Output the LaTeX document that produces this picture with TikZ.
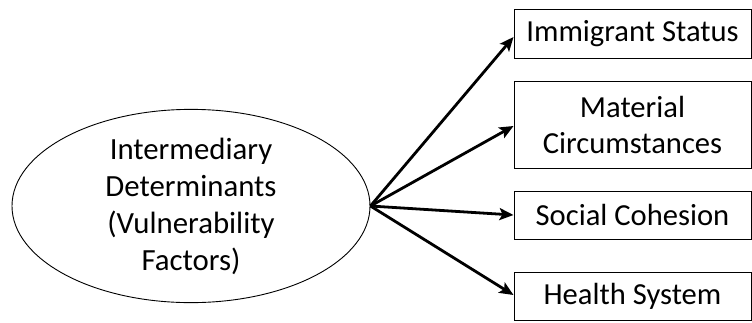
\documentclass[tikz,border=0pt]{standalone}
\usepackage{fontspec}
\setmainfont{Carlito}
\usetikzlibrary{shapes.geometric,arrows.meta}
\begin{document}
\begin{tikzpicture}[x=1pt,y=-1pt,
  factor/.style={draw=black, line width=1pt, rectangle, inner sep=0pt, align=center,
    font=\fontsize{30.6}{36}\selectfont},
  link/.style={line width=2.8pt, -{Stealth[length=14pt,width=12pt,inset=3pt]}}]
  \useasboundingbox (0,0) rectangle (752,322);
  % central ellipse
  \node[draw=black, line width=0.9pt, ellipse, minimum width=358pt, minimum height=168pt,
    inner sep=0pt, align=center, font=\fontsize{30.8}{37}\selectfont] (core) at (191,206)
    {Intermediary\\Determinants\\(Vulnerability\\Factors)};
  % factor boxes
  \node[factor, minimum width=237pt, minimum height=49pt] (imm) at (632.5,33.5) {Immigrant Status};
  \node[factor, minimum width=237pt, minimum height=87pt] (mat) at (632.5,124.5) {Material\\Circumstances};
  \node[factor, minimum width=237pt, minimum height=48pt] (soc) at (632.5,215) {Social Cohesion};
  \node[factor, minimum width=237pt, minimum height=48pt] (hea) at (632.5,296) {Health System};
  % connectors
  \coordinate (src) at (core.east);
  \draw[link] (src) -- (imm.west |- 0,37);
  \draw[link] (src) -- (mat.west |- 0,126);
  \draw[link] (src) -- (soc.west |- 0,215);
  \draw[link] (src) -- (hea.west |- 0,295);
\end{tikzpicture}
\end{document}
